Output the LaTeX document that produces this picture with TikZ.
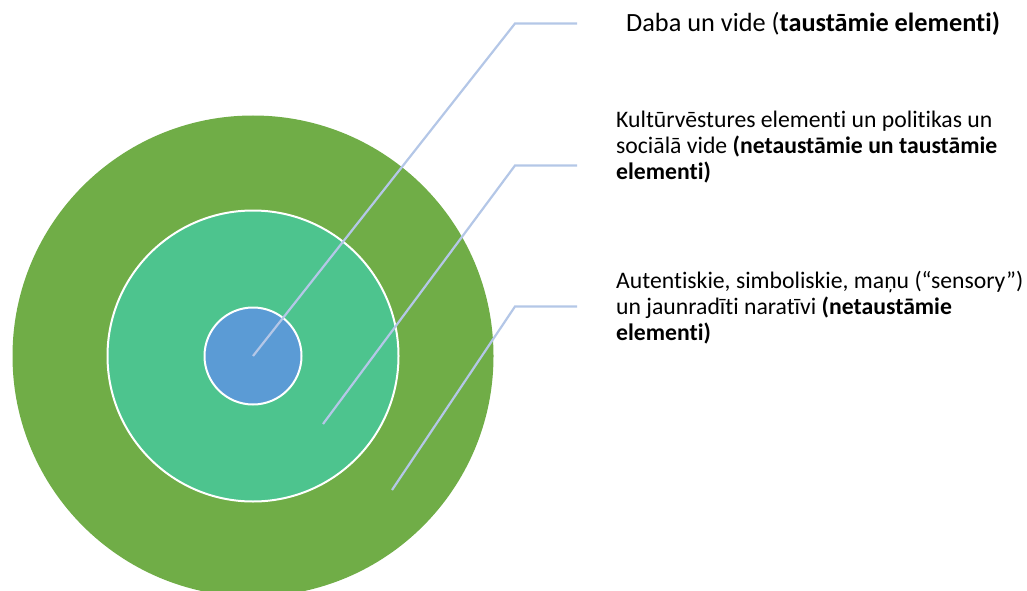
\documentclass[tikz,border=0pt]{standalone}
\usepackage{fontspec}
\setmainfont{Carlito}[Ligatures={NoCommon}]
\definecolor{outergreen}{RGB}{112,173,71}
\definecolor{midgreen}{RGB}{77,196,142}
\definecolor{innerblue}{RGB}{91,155,213}
\definecolor{leader}{RGB}{180,199,231}
\begin{document}
\begin{tikzpicture}[x=1pt,y=-1pt,
  ring/.style={circle,inner sep=0pt,outer sep=0pt},
  leaderline/.style={draw=leader,line width=2.2pt},
  lbl/.style={anchor=base west,inner sep=0pt,align=left,font=\fontsize{23.7}{26}\selectfont}]
\useasboundingbox (0,0) rectangle (1027,591);
\node[ring,fill=outergreen,minimum size=481pt] (outer) at (253,356) {};
\node[ring,fill=midgreen,draw=white,line width=2pt,minimum size=291pt] (middle) at (253,356) {};
\node[ring,fill=innerblue,draw=white,line width=2pt,minimum size=97pt] (inner) at (253,356) {};
\coordinate (s1) at (253,356);
\coordinate (s2) at (323,424);
\coordinate (s3) at (392,490);
\coordinate (k1) at (515,23.5);
\coordinate (k2) at (515,165.5);
\coordinate (k3) at (515,306.5);
\coordinate (e1) at (577,23.5);
\coordinate (e2) at (577,165.5);
\coordinate (e3) at (577,306.5);
\draw[leaderline] (s1) -- (k1) -- (e1);
\draw[leaderline] (s2) -- (k2) -- (e2);
\draw[leaderline] (s3) -- (k3) -- (e3);
\node[lbl,font=\fontsize{26.3}{30}\selectfont] (t1) at (626,32) {Daba un vide (\textbf{taustāmie elementi)}};
\node[lbl] (t2) at (616,179.5) {Kultūrvēstures elementi un politikas un\\sociālā vide \textbf{(netaustāmie un taustāmie}\\\textbf{elementi)}};
\node[lbl] (t3) at (616,340) {Autentiskie, simboliskie, maņu (“sensory”)\\un jaunradīti naratīvi \textbf{(netaustāmie}\\\textbf{elementi)}};
\end{tikzpicture}
\end{document}
